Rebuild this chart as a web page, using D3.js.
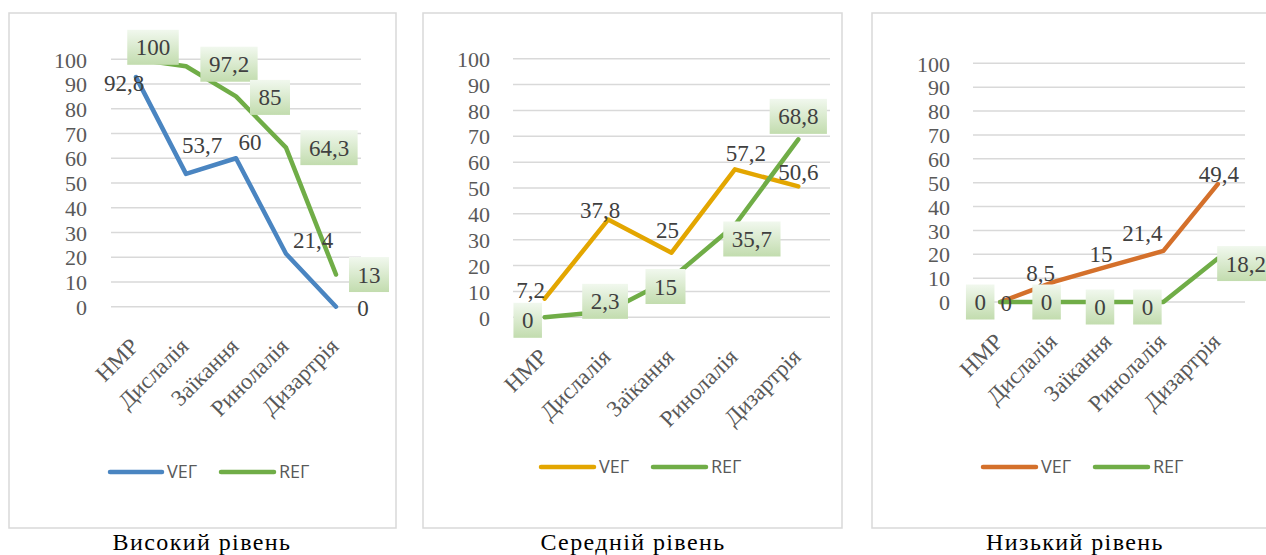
<!DOCTYPE html>
<html><head><meta charset="utf-8">
<script src="https://cdn.jsdelivr.net/npm/d3@7"></script>
<style>body{margin:0;background:#fff}svg{display:block}</style>
</head><body>
<svg id="c" width="1266" height="555"></svg>
<script>
// ---- data ----
const categories = ["НМР", "Дислалія", "Заїкання", "Ринолалія", "Дизартрія"];
const yTicks = [0, 10, 20, 30, 40, 50, 60, 70, 80, 90, 100];
const seriesNames = ["VEГ", "REГ"];
const titles = ["Високий рівень", "Середній рівень", "Низький рівень"];
const highVEG = [92.8, 53.7, 60, 21.4, 0];
const highREG = [100, 97.2, 85, 64.3, 13];
const midVEG = [7.2, 37.8, 25, 57.2, 50.6];
const midREG = [0, 2.3, 15, 35.7, 68.8];
const lowVEG = [0, 8.5, 15, 21.4, 49.4];
const lowREG = [0, 0, 0, 0, 18.2];

// ---- layout (positions / styles) ----
const panels = [
  { title: titles[0], veg: highVEG, reg: highREG, vegColor: "#4a85c1", regColor: "#70ad47",
    box: [9, 13, 396, 528], px: [111, 361], py: [306.7, 59.3], yLabX: 87, legY: 472,
    leg: [[110, 162], [221, 274]], titleX: 202,
    vegOff: [[-12, 6], [16, -29], [14, -16], [27, -14], [27, 1]],
    regOff: [[17, -12], [43, -2], [34, 1], [43, 0], [33, 0]] },
  { title: titles[1], veg: midVEG, reg: midREG, vegColor: "#e3a600", regColor: "#70ad47",
    box: [423, 13, 842, 528], px: [513, 830], py: [317.3, 58.7], yLabX: 490, legY: 467,
    leg: [[541, 594], [653, 706]], titleX: 633,
    vegOff: [[-14, -9], [-8, -10], [-4, -23], [11, -16], [0, -14]],
    regOff: [[-17, 3], [-3, -10], [-6, 8], [17, 14], [0, -23]] },
  { title: titles[2], veg: lowVEG, reg: lowREG, vegColor: "#d4702b", regColor: "#70ad47",
    box: [872, 13, 1272, 528], px: [973, 1245], py: [302, 63.3], yLabX: 950, legY: 467,
    leg: [[983, 1036], [1095, 1148]], titleX: 1075,
    vegOff: [[6, 1], [-14, -9], [-8, -12], [-21, -18], [1, -10]],
    regOff: [[-20, 0], [-8, 0], [-9, 5], [-16, 5], [28, 5]] }
];

const serif = "'Liberation Serif','Times New Roman',serif";
const sans = "'Open Sans','Liberation Sans',sans-serif";
const fmt = v => String(v).replace(".", ",");

const svg = d3.select("#c");
const defs = svg.append("defs");
const grad = defs.append("linearGradient").attr("id", "lblGrad")
  .attr("x1", 0).attr("y1", 0).attr("x2", 0).attr("y2", 1);
grad.append("stop").attr("offset", "0%").attr("stop-color", "#f1f8ee");
grad.append("stop").attr("offset", "100%").attr("stop-color", "#c2dcae");

panels.forEach(p => {
  const g = svg.append("g");
  g.append("rect").attr("x", p.box[0]).attr("y", p.box[1])
    .attr("width", p.box[2] - p.box[0]).attr("height", p.box[3] - p.box[1])
    .attr("fill", "#fff").attr("stroke", "#d9d9d9").attr("stroke-width", 1.5);

  const x = d3.scaleBand().domain(categories).range(p.px).padding(0);
  const y = d3.scaleLinear().domain([0, 100]).range(p.py);
  const cx = c => x(c) + x.bandwidth() / 2;

  // gridlines
  g.append("g").selectAll("line").data(yTicks).join("line")
    .attr("x1", p.px[0]).attr("x2", p.px[1])
    .attr("y1", d => y(d)).attr("y2", d => y(d))
    .attr("stroke", "#d9d9d9").attr("stroke-width", 1.5);

  // y axis labels
  const yAxis = d3.axisLeft(y).tickValues(yTicks).tickSize(0).tickPadding(0);
  const ya = g.append("g").attr("transform", `translate(${p.yLabX},0)`).call(yAxis);
  ya.select(".domain").remove();
  ya.selectAll("text").attr("font-family", serif).attr("font-size", 22)
    .attr("fill", "#595959").attr("x", 0).attr("dy", "0.35em");

  // x axis labels
  const xAxis = d3.axisBottom(x).tickSize(0).tickPadding(0);
  const xa = g.append("g").attr("transform", `translate(0,${p.py[0]})`).call(xAxis);
  xa.select(".domain").remove();
  xa.selectAll("text").attr("font-family", serif).attr("font-size", 23)
    .attr("fill", "#595959").attr("text-anchor", "end").attr("dy", 0).attr("y", 0)
    .attr("transform", "translate(4,41) rotate(-45)");

  // lines
  const line = d3.line().x((d, i) => cx(categories[i])).y(d => y(d));
  [[p.veg, p.vegColor], [p.reg, p.regColor]].forEach(([vals, col]) => {
    g.append("path").datum(vals).attr("d", line).attr("fill", "none")
      .attr("stroke", col).attr("stroke-width", 4.5)
      .attr("stroke-linejoin", "round").attr("stroke-linecap", "round");
  });

  // VEG labels (plain)
  g.append("g").selectAll("text").data(p.veg).join("text")
    .attr("x", (d, i) => cx(categories[i]) + p.vegOff[i][0])
    .attr("y", (d, i) => y(d) + p.vegOff[i][1])
    .attr("dy", "0.35em").attr("text-anchor", "middle")
    .attr("font-family", serif).attr("font-size", 23).attr("fill", "#404040")
    .text(d => fmt(d));

  // REG labels (boxed)
  const rl = g.append("g").selectAll("g").data(p.reg).join("g")
    .attr("transform", (d, i) => `translate(${cx(categories[i]) + p.regOff[i][0]},${y(d) + p.regOff[i][1]})`);
  rl.append("text").attr("dy", "0.35em").attr("text-anchor", "middle")
    .attr("font-family", serif).attr("font-size", 23).attr("fill", "#404040")
    .text(d => fmt(d));
  rl.each(function () {
    const t = d3.select(this).select("text");
    const w = t.node().getComputedTextLength() + 17;
    d3.select(this).insert("rect", "text").attr("x", -w / 2).attr("y", -17.5)
      .attr("width", w).attr("height", 35).attr("fill", "url(#lblGrad)");
  });

  // legend
  [p.vegColor, p.regColor].forEach((col, k) => {
    g.append("line").attr("x1", p.leg[k][0]).attr("x2", p.leg[k][1])
      .attr("y1", p.legY).attr("y2", p.legY).attr("stroke", col)
      .attr("stroke-width", 4.5).attr("stroke-linecap", "round");
    g.append("text").attr("x", p.leg[k][1] + 5).attr("y", p.legY).attr("dy", "0.36em")
      .attr("font-family", sans).attr("font-size", 18).attr("fill", "#595959")
      .text(seriesNames[k]);
  });

  // title
  svg.append("text").attr("x", p.titleX).attr("y", 550).attr("text-anchor", "middle")
    .attr("font-family", serif).attr("font-size", 24).attr("letter-spacing", 1.4)
    .attr("fill", "#000")
    .text(p.title);
});
</script>
</body></html>
